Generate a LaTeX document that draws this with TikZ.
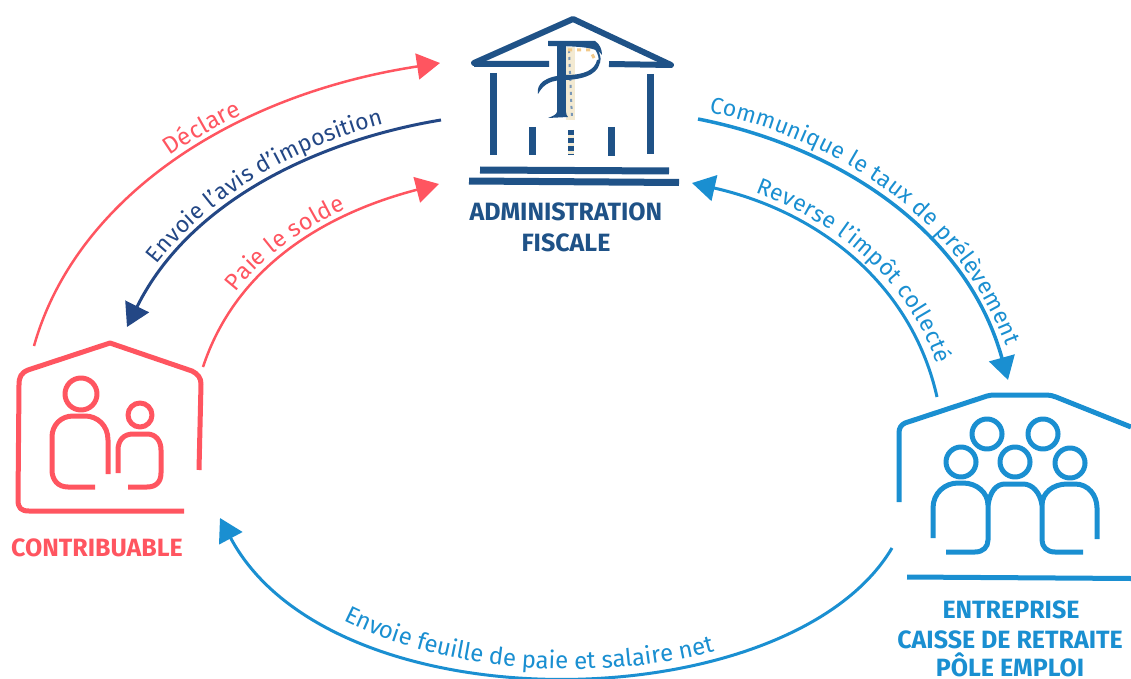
\documentclass[tikz,border=0pt]{standalone}
\usepackage{fontspec}
\setmainfont{Fira Sans}
\usetikzlibrary{arrows.meta,decorations.text}
\definecolor{cred}{HTML}{FF5560}
\definecolor{cblue}{HTML}{1A8FD1}
\definecolor{cnavy}{HTML}{1F5287}
\definecolor{carrow}{HTML}{234785}
\definecolor{cfade}{HTML}{F3EAD2}
\definecolor{cgold}{HTML}{F2C98A}
\tikzset{
  arrowline/.style={line width=#1,-{Triangle[length=23pt,width=26pt]}},
  icon/.style={line width=5pt,line join=round,fill=none},
  pillar/.style={draw=cnavy,line width=7pt},
  org/.style={font=\fontsize{25}{28}\selectfont\bfseries,inner sep=0pt},
  curvelabel/.style n args={3}{decorate,decoration={text along path,raise=#2,
     text align={left indent=#1},text format delimiters={|}{|},text={#3}}}
}
\newcommand{\lab}[2]{\fontsize{#2}{26}\selectfont\color{#1}}
\begin{document}
\begin{tikzpicture}[x=1pt,y=-1pt]
\useasboundingbox (0,0) rectangle (1131,679);
\coordinate (cA) at (34,346);
\coordinate (aA) at (440,63);
\coordinate (aB) at (441,120);
\coordinate (cB) at (127,327);
\coordinate (cC) at (203,367);
\coordinate (aC) at (439,184);
\coordinate (aD) at (698,119);
\coordinate (eD) at (1008,380);
\coordinate (eE) at (937,397);
\coordinate (aE) at (692,183);
\coordinate (eF) at (892,548);
\coordinate (cF) at (220,518);
% admin
\draw[cnavy,line width=6pt,line join=round,line cap=round] (474,63) -- (573,19) -- (671,65);
\draw[cnavy,line width=6pt] (474,64) -- (549,64) (609,64) -- (671,65);
\draw[pillar] (493,73) -- (493,155);
\draw[pillar] (650,74) -- (650,154);
\draw[pillar] (532,127) -- (532,155);
\draw[pillar] (611,127) -- (611,156);
\draw[draw=cfade,line width=6pt] (571,130) -- (571,155);
\draw[cnavy,line width=6pt,dash pattern=on 5pt off 3pt] (571,130) -- (571,155);
\draw[pillar] (480,170) -- (669,171);
\draw[pillar] (469,181) -- (679,182.5);
% monogram
\fill[cfade] (566,47) rectangle (575,120);
\draw[cnavy!60,line width=2pt,dash pattern=on 3pt off 4pt] (569,50) -- (572,119);
\draw[cgold,line width=3pt,dash pattern=on 4pt off 5pt] (568,50) -- (590,50) -- (596,62);
\fill[cnavy] (557,44) rectangle (566,116);
\fill[cnavy] (548,41) -- (595,41) .. controls (600,44) and (602,50) .. (602,55) .. controls (598,49) and (590,46) .. (548,46) -- cycle;
\fill[cnavy] (548,118) .. controls (553,116) and (556,115) .. (557,112) -- (566,112) .. controls (566,114) and (567,116) .. (568,117) -- cycle;
\draw[cnavy,line width=2pt] (592,44) .. controls (598,50) and (601,58) .. (599,63);
\fill[cnavy] (600,60) .. controls (600,72) and (588,79) .. (566,80) -- (566,75) .. controls (584,75) and (595,70) .. (597,60) -- cycle;
\fill[cnavy] (538,94) .. controls (536,84) and (545,76) .. (566,75) -- (566,80) .. controls (552,80) and (544,83) .. (538,94) -- cycle;
\node[org,text=cnavy] (admin) at (566,212) {ADMINISTRATION};
\node[org,text=cnavy] (fiscale) at (566,243) {FISCALE};
% contribuable
\begin{scope}[cred,icon]
\draw (184,511) -- (29,511) .. controls (21,511) and (18,508) .. (18,500) -- (19,385) .. controls (19,377) and (21,373) .. (28,370) -- (110,343) -- (192,371) .. controls (198,374) and (201,378) .. (201,384) -- (199,470);
\draw (81,394) circle (16);
\draw (108,474) -- (108,440) .. controls (108,425) and (97,416) .. (85,416) -- (73,416) .. controls (61,416) and (52,425) .. (52,437) -- (52,470) .. controls (52,480) and (58,487) .. (68,487) -- (95,487);
\draw (140,415) circle (12);
\draw (118,473) -- (118,450) .. controls (118,440) and (124,434) .. (133,434) -- (147,434) .. controls (156,434) and (161,441) .. (161,450) -- (161,473) .. controls (161,482) and (156,487) .. (147,487) -- (128,487);
\end{scope}
\node[org,text=cred] (contrib) at (97,548) {CONTRIBUABLE};
% entreprise
\begin{scope}[cblue,icon]
\draw (899,502) -- (899,433) .. controls (899,428) and (901,425) .. (905,423) -- (987,396) .. controls (990,395) and (993,395) .. (997,395) -- (1047,395) .. controls (1050,395) and (1053,396) .. (1056,397) -- (1131,427);
\draw (907,577) -- (1131,578.5);
\foreach \p in {(987,434),(1043,434),(961,462),(1015,462),(1070,463)} \draw \p circle (15);
\draw (933,538) -- (933,508) .. controls (933,493) and (945,483) .. (958,483) -- (963,483) .. controls (977,483) and (988,493) .. (988,505) -- (988,540) .. controls (988,547) and (983,552) .. (975,552) -- (946,552);
\draw (988,505) .. controls (990,492) and (996,484) .. (1005,484) -- (1023,484) .. controls (1032,484) and (1040,492) .. (1042,505);
\draw (1083,552) -- (1055,552) .. controls (1047,552) and (1042,547) .. (1042,540) -- (1042,505) .. controls (1042,493) and (1053,484) .. (1067,484) -- (1075,484) .. controls (1088,484) and (1097,495) .. (1097,508) -- (1097,539);
\end{scope}
\node[org,text=cblue] (ent) at (1011,610) {ENTREPRISE};
\node[org,text=cblue] (caisse) at (1010,640) {CAISSE DE RETRAITE};
\node[org,text=cblue] (pole) at (1010,665) {PÔLE EMPLOI};
% connectors
\draw[cred,arrowline=2.5pt] (cA) .. controls (75,200) and (230,95) .. (aA);
\draw[carrow,arrowline=3pt] (aB) .. controls (320,140) and (190,200) .. (cB);
\draw[cred,arrowline=2.5pt] (cC) .. controls (235,270) and (320,215) .. (aC);
\draw[cblue,arrowline=3.5pt] (aD) .. controls (830,145) and (965,225) .. (eD);
\draw[cblue,arrowline=3pt] (eE) .. controls (912,285) and (820,212) .. (aE);
\draw[cblue,arrowline=3pt] (eF) .. controls (790,720) and (333,730) .. (cF);
% labels on the curves
\path[curvelabel={236pt}{7pt}{|\lab{cred}{24}|Déclare}] (cA) .. controls (75,200) and (230,95) .. (aA);
\path[curvelabel={68pt}{8pt}{|\lab{carrow}{23}|Envoie l'avis d'imposition}] (cB) .. controls (190,200) and (320,140) .. (aB);
\path[curvelabel={80pt}{7pt}{|\lab{cred}{23.5}|Paie le solde}] (cC) .. controls (235,270) and (320,215) .. (aC);
\path[curvelabel={9pt}{9pt}{|\lab{cblue}{23}|Communique le taux de prélèvement}] (aD) .. controls (830,145) and (965,225) .. (eD);
\path[curvelabel={63pt}{9pt}{|\lab{cblue}{23}|Reverse l'impôt collecté}] (aE) .. controls (820,212) and (912,285) .. (eE);
\path[curvelabel={165pt}{8pt}{|\lab{cblue}{24}|Envoie feuille de paie et salaire net}] (cF) .. controls (333,730) and (790,720) .. (eF);
\end{tikzpicture}
\end{document}
